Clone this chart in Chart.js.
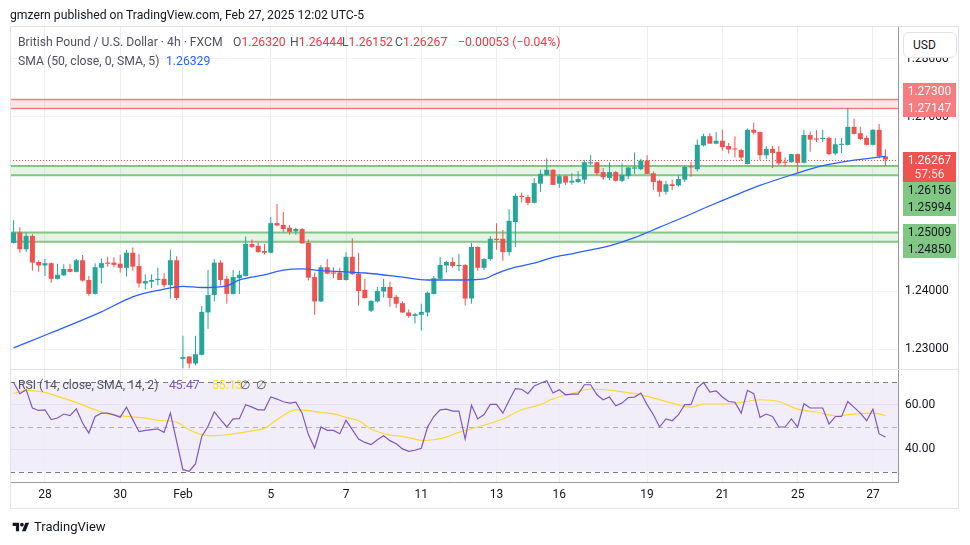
<!DOCTYPE html>
<html>
<head>
<meta charset="utf-8">
<script src="https://cdn.jsdelivr.net/npm/chart.js@4.4.1/dist/chart.umd.min.js"></script>
<style>
  body { margin: 0; background: #fff; font-family: Roboto, "Noto Sans", sans-serif; color: #131722; }
  #wrap { position: relative; width: 970px; height: 545px; overflow: hidden; }
  #chart { position: absolute; left: 0; top: 0; }
  .t { position: absolute; white-space: nowrap; font-size: 12.2px; line-height: 16px; }
  .gray { color: #50535e; }
  .red { color: #f23645; }
  #usd { position: absolute; left: 903px; top: 32px; width: 52px; height: 24px; border: 1px solid #e0e3eb;
         border-radius: 6px; background: #fff; font-size: 12px; line-height: 24px; box-sizing: content-box; }
  #usd span { padding-left: 9px; }
  #logo { position: absolute; left: 12px; top: 519px; font-size: 13px; line-height: 16px; display: flex; align-items: center; }
</style>
</head>
<body>
<div id="wrap">
  <canvas id="chart" width="970" height="545"></canvas>

  <div class="t" style="left:10px; top:7px;">gmzern published on TradingView.com, Feb 27, 2025 12:02 UTC-5</div>

  <div class="t gray" style="left:18px; top:34px;">British Pound / U.S. Dollar · 4h · FXCM</div>
  <div class="t" id="ohlc"></div>

  <div class="t gray" style="left:18px; top:53px;">SMA (50, close, 0, SMA, 5)</div>
  <div class="t" style="left:166px; top:53px; color:#2962ff;">1.26329</div>

  <div class="t gray" style="left:18px; top:377px;">RSI (14, close, SMA, 14, 2)</div>
  <div class="t" style="left:169px; top:377px; color:#7e57c2;">45.47</div>
  <div class="t" style="left:212px; top:377px; color:#fdd835;">55.13</div>
  <div class="t gray" style="left:240px; top:377px;">∅</div>
  <div class="t gray" style="left:256px; top:377px;">∅</div>

  <div id="usd"><span>USD</span></div>

  <div id="logo">
    <svg width="18" height="13" viewBox="0 0 36 28"><path d="M14 22H7V11H0V4h14v18z M28 22h-8l7.5-18h8L28 22z" fill="#131722"/><circle cx="20" cy="8" r="4" fill="#131722"/></svg>
    <span style="margin-left:4px;">TradingView</span>
  </div>
</div>

<script>
// ---- data (GBP/USD 4h, FXCM) ----
const opens = [
  1.2483, 1.2501, 1.2472, 1.2495, 1.2450, 1.2444, 1.2448, 1.2421, 1.2427, 1.2438,
  1.2433, 1.2453, 1.2419, 1.2395, 1.2440, 1.2449, 1.2449, 1.2447, 1.2440, 1.2466,
  1.2443, 1.2413, 1.2416, 1.2419, 1.2421, 1.2410, 1.2453, 1.2283, 1.2287, 1.2275,
  1.2290, 1.2363, 1.2393, 1.2449, 1.2421, 1.2395, 1.2422, 1.2426, 1.2481, 1.2478,
  1.2469, 1.2466, 1.2517, 1.2514, 1.2509, 1.2503, 1.2507, 1.2483, 1.2424, 1.2382,
  1.2441, 1.2432, 1.2432, 1.2419, 1.2459, 1.2430, 1.2402, 1.2366, 1.2382, 1.2399,
  1.2407, 1.2390, 1.2379, 1.2363, 1.2357, 1.2359, 1.2363, 1.2395, 1.2421, 1.2444,
  1.2450, 1.2443, 1.2445, 1.2387, 1.2476, 1.2440, 1.2455, 1.2490, 1.2490, 1.2467,
  1.2519, 1.2564, 1.2562, 1.2552, 1.2585, 1.2600, 1.2609, 1.2585, 1.2598, 1.2587,
  1.2588, 1.2592, 1.2620, 1.2622, 1.2605, 1.2595, 1.2605, 1.2590, 1.2598, 1.2611,
  1.2610, 1.2625, 1.2603, 1.2590, 1.2571, 1.2584, 1.2582, 1.2592, 1.2614, 1.2610,
  1.2651, 1.2667, 1.2654, 1.2659, 1.2650, 1.2645, 1.2643, 1.2619, 1.2678, 1.2674,
  1.2634, 1.2645, 1.2640, 1.2623, 1.2622, 1.2636, 1.2621, 1.2669, 1.2663, 1.2662,
  1.2664, 1.2637, 1.2652, 1.2652, 1.2683, 1.2672, 1.2664, 1.2652, 1.2678, 1.26320
];
const highs = [
  1.2522, 1.2510, 1.2501, 1.2498, 1.2453, 1.2455, 1.2449, 1.2447, 1.2446, 1.2447,
  1.2455, 1.2462, 1.2426, 1.2448, 1.2456, 1.2459, 1.2458, 1.2462, 1.2471, 1.2475,
  1.2464, 1.2429, 1.2429, 1.2440, 1.2431, 1.2471, 1.2460, 1.2323, 1.2288, 1.2323,
  1.2374, 1.2436, 1.2455, 1.2453, 1.2426, 1.2436, 1.2435, 1.2494, 1.2489, 1.2484,
  1.2481, 1.2528, 1.2550, 1.2536, 1.2514, 1.2509, 1.2508, 1.2489, 1.2432, 1.2445,
  1.2455, 1.2441, 1.2440, 1.2467, 1.2491, 1.2466, 1.2421, 1.2384, 1.2407, 1.2421,
  1.2416, 1.2393, 1.2382, 1.2368, 1.2362, 1.2378, 1.2399, 1.2426, 1.2459, 1.2452,
  1.2458, 1.2464, 1.2446, 1.2483, 1.2477, 1.2457, 1.2495, 1.2517, 1.2505, 1.2541,
  1.2568, 1.2570, 1.2566, 1.2595, 1.2609, 1.2629, 1.2610, 1.2601, 1.2599, 1.2603,
  1.2607, 1.2626, 1.2634, 1.2623, 1.2612, 1.2622, 1.2607, 1.2620, 1.2614, 1.2639,
  1.2628, 1.2634, 1.2606, 1.2592, 1.2590, 1.2592, 1.2600, 1.2616, 1.2623, 1.2661,
  1.2671, 1.2672, 1.2674, 1.2678, 1.2655, 1.2667, 1.2645, 1.2680, 1.2690, 1.2675,
  1.2650, 1.2650, 1.2650, 1.2630, 1.2636, 1.2637, 1.2678, 1.2675, 1.2677, 1.2678,
  1.2666, 1.2664, 1.2664, 1.2716, 1.2697, 1.2683, 1.2668, 1.2679, 1.2688, 1.26444
];
const lows = [
  1.2482, 1.2466, 1.2467, 1.2435, 1.2433, 1.2426, 1.2414, 1.2420, 1.2426, 1.2432,
  1.2432, 1.2416, 1.2392, 1.2394, 1.2413, 1.2442, 1.2441, 1.2432, 1.2425, 1.2435,
  1.2406, 1.2403, 1.2405, 1.2410, 1.2406, 1.2387, 1.2384, 1.2267, 1.2267, 1.2272,
  1.2289, 1.2335, 1.2382, 1.2410, 1.2378, 1.2394, 1.2395, 1.2425, 1.2474, 1.2466,
  1.2463, 1.2465, 1.2511, 1.2501, 1.2497, 1.2497, 1.2482, 1.2418, 1.2359, 1.2381,
  1.2429, 1.2422, 1.2419, 1.2418, 1.2428, 1.2375, 1.2387, 1.2364, 1.2380, 1.2389,
  1.2373, 1.2371, 1.2362, 1.2354, 1.2344, 1.2332, 1.2356, 1.2394, 1.2420, 1.2432,
  1.2440, 1.2434, 1.2375, 1.2378, 1.2435, 1.2436, 1.2452, 1.2471, 1.2452, 1.2461,
  1.2476, 1.2553, 1.2548, 1.2551, 1.2571, 1.2599, 1.2583, 1.2578, 1.2583, 1.2583,
  1.2586, 1.2585, 1.2617, 1.2599, 1.2592, 1.2591, 1.2589, 1.2588, 1.2593, 1.2602,
  1.2608, 1.2602, 1.2574, 1.2563, 1.2566, 1.2574, 1.2580, 1.2588, 1.2597, 1.2606,
  1.2649, 1.2654, 1.2653, 1.2642, 1.2637, 1.2630, 1.2624, 1.2618, 1.2670, 1.2626,
  1.2627, 1.2612, 1.2617, 1.2614, 1.2621, 1.2604, 1.2620, 1.2640, 1.2657, 1.2657,
  1.2634, 1.2634, 1.2638, 1.2651, 1.2670, 1.2660, 1.2651, 1.2651, 1.2629, 1.26152
];
const closes = [
  1.2501, 1.2472, 1.2495, 1.2449, 1.2444, 1.2448, 1.2421, 1.2428, 1.2438, 1.2433,
  1.2453, 1.2418, 1.2395, 1.2441, 1.2448, 1.2447, 1.2445, 1.2440, 1.2466, 1.2442,
  1.2413, 1.2417, 1.2419, 1.2421, 1.2410, 1.2453, 1.2388, 1.2286, 1.2275, 1.2291,
  1.2364, 1.2393, 1.2449, 1.2419, 1.2395, 1.2424, 1.2428, 1.2481, 1.2476, 1.2467,
  1.2466, 1.2517, 1.2513, 1.2507, 1.2502, 1.2507, 1.2482, 1.2423, 1.2382, 1.2441,
  1.2430, 1.2430, 1.2419, 1.2459, 1.2429, 1.2400, 1.2388, 1.2383, 1.2400, 1.2407,
  1.2388, 1.2378, 1.2363, 1.2357, 1.2360, 1.2364, 1.2397, 1.2422, 1.2445, 1.2450,
  1.2443, 1.2445, 1.2387, 1.2476, 1.2440, 1.2455, 1.2490, 1.2488, 1.2467, 1.2521,
  1.2564, 1.2562, 1.2552, 1.2586, 1.2602, 1.2609, 1.2583, 1.2598, 1.2587, 1.2590,
  1.2593, 1.2622, 1.2622, 1.2603, 1.2596, 1.2605, 1.2590, 1.2600, 1.2613, 1.2613,
  1.2625, 1.2602, 1.2588, 1.2571, 1.2584, 1.2581, 1.2593, 1.2614, 1.2613, 1.2652,
  1.2667, 1.2654, 1.2659, 1.2648, 1.2644, 1.2644, 1.2630, 1.2678, 1.2673, 1.2634,
  1.2645, 1.2638, 1.2620, 1.2621, 1.2636, 1.2621, 1.2669, 1.2661, 1.2661, 1.2664,
  1.2636, 1.2653, 1.2653, 1.2683, 1.2671, 1.2662, 1.2652, 1.2678, 1.2632, 1.26267
];

const smaIdx = [0, 6, 14, 19, 23, 27, 30, 34, 36, 40, 43, 46, 49, 53, 56, 62, 66, 71, 75, 77,
  80, 83, 86, 89, 92, 95, 99, 103, 107, 111, 115, 119, 124, 129, 133, 139];
const smaVals = [1.2302, 1.2328, 1.2364, 1.2390, 1.2401, 1.2408, 1.2406, 1.2409, 1.2419, 1.2428,
  1.2436, 1.2438, 1.2435, 1.2433, 1.2431, 1.2424, 1.2419, 1.2419, 1.2421, 1.2430,
  1.2441, 1.2448, 1.2458, 1.2464, 1.2471, 1.2478, 1.2492, 1.2510, 1.2528, 1.2547,
  1.2565, 1.2582, 1.2600, 1.2616, 1.2624, 1.2632];

// RSI(14), one value per bar
const rsi = [
  69.9, 64.9, 66.7, 58.5, 57.4, 57.7, 53.3, 54.0, 55.8, 55.1,
  58.1, 51.8, 47.3, 54.7, 56.2, 56.2, 55.4, 54.4, 58.9, 53.3,
  47.9, 48.5, 48.8, 49.1, 47.6, 56.2, 43.6, 30.9, 30.2, 33.5,
  45.8, 50.3, 56.8, 53.3, 50.0, 53.6, 53.7, 60.0, 58.9, 57.7,
  57.7, 63.4, 62.5, 61.3, 60.7, 61.1, 56.2, 46.6, 40.6, 50.0,
  48.5, 48.5, 47.0, 53.0, 48.8, 44.6, 43.1, 42.1, 44.3, 46.1,
  43.9, 42.5, 40.2, 39.1, 39.6, 40.5, 50.0, 54.7, 57.7, 58.0,
  57.1, 57.1, 44.6, 59.7, 53.6, 55.6, 60.1, 60.1, 56.2, 61.9,
  67.2, 66.9, 64.9, 68.4, 69.6, 70.7, 65.2, 66.7, 64.4, 64.7,
  64.7, 68.9, 68.9, 64.4, 62.2, 63.4, 59.5, 60.7, 63.2, 63.4,
  65.2, 60.0, 55.5, 50.0, 53.6, 52.8, 55.5, 60.0, 60.0, 67.4,
  69.9, 65.6, 66.2, 63.4, 61.4, 61.1, 56.2, 66.4, 64.9, 54.3,
  55.8, 54.7, 50.0, 50.0, 53.6, 50.0, 60.4, 58.5, 58.5, 58.5,
  51.3, 54.7, 54.7, 61.4, 58.8, 56.2, 52.8, 58.0, 46.9, 45.5
];

// RSI-based MA (yellow), sampled at these bars
const rsiMaIdx = [0, 2, 5, 7, 10, 13, 15, 18, 21, 23, 26, 28, 30, 32, 35, 38, 40, 42, 45, 47,
  49, 51, 53, 55, 57, 60, 62, 64, 65, 67, 69, 71, 74, 78, 81, 84, 86, 89, 92, 96,
  99, 101, 105, 108, 110, 114, 116, 119, 122, 125, 128, 131, 134, 137, 139];
const rsiMaVals = [65.0, 66.4, 65.5, 63.7, 61.0, 57.7, 55.9, 54.7, 54.0, 53.0,
  52.1, 48.8, 46.6, 46.1, 46.9, 48.3, 49.4, 53.3, 57.7, 57.4,
  56.5, 55.9, 54.3, 52.8, 49.1, 46.4, 45.8, 44.6, 44.0, 44.3,
  45.5, 47.6, 50.0, 53.6, 57.7, 60.0, 62.6, 64.9, 67.0, 66.2,
  64.9, 63.7, 60.7, 58.8, 60.3, 60.3, 61.0, 62.2, 61.4, 58.0,
  56.7, 55.0, 55.8, 56.2, 55.1];

// axis ticks
const xTickIdx = [5, 17, 27, 41, 53, 65, 77, 87, 101, 113, 125, 137];
const xTickText = ['28', '30', 'Feb', '5', '7', '11', '13', '16', '19', '21', '25', '27'];
const priceTicks = [1.23, 1.24, 1.25, 1.26, 1.27, 1.28];
const rsiTicks = [40, 60];
const rsiBand = [30, 50, 70];

// drawn zones and labels
const redZone = [1.27300, 1.27147];
const greenZones = [[1.26156, 1.25994], [1.25009, 1.24850]];
const lastPrice = 1.26267;
const lastChange = -0.00053;
const lastChangePct = -0.04;
const countdown = '57:56';

const up = '#26a69a', down = '#ef5350';

// header OHLC line
(function() {
  var i = closes.length - 1;
  var parts = [
    ['O', opens[i], 233], ['H', highs[i], 290], ['L', lows[i], 342], ['C', closes[i], 395]
  ];
  var html = '';
  parts.forEach(function(p) {
    html += '<span class="t" style="left:' + p[2] + 'px; top:34px;"><span class="gray">' + p[0] +
      '</span><span class="red">' + p[1].toFixed(5) + '</span></span>';
  });
  html += '<span class="t red" style="left:458px; top:34px;">\u2212' + Math.abs(lastChange).toFixed(5) +
    ' (\u2212' + Math.abs(lastChangePct).toFixed(2) + '%)</span>';
  document.getElementById('ohlc').outerHTML = html;
})();

Chart.defaults.font.family = 'Roboto, "Noto Sans", sans-serif';
Chart.defaults.font.size = 12;
Chart.defaults.color = '#131722';

const idx = opens.map(function(_, i) { return i; });
function candleColor(i) { return closes[i] >= opens[i] ? up : down; }

// panes, zones, band lines and price tags
const overlays = {
  id: 'overlays',
  beforeDraw(chart) {
    const {ctx, chartArea: a, scales: {osc}} = chart;
    const top = osc.getPixelForValue(rsiBand[2]);
    const bot = osc.getPixelForValue(rsiBand[0]);
    ctx.save();
    ctx.fillStyle = 'rgba(126, 87, 194, 0.1)';
    ctx.fillRect(a.left, top, a.right - a.left, bot - top);
    ctx.restore();
  },
  beforeDatasetsDraw(chart) {
    const {ctx, chartArea: a, scales: {y, osc}} = chart;
    ctx.save();

    function zone(hi, lo, fill, line, lw) {
      const y1 = y.getPixelForValue(hi), y2 = y.getPixelForValue(lo);
      ctx.fillStyle = fill;
      ctx.fillRect(a.left, y1, a.right - a.left, y2 - y1);
      ctx.strokeStyle = line;
      ctx.lineWidth = lw;
      ctx.beginPath();
      ctx.moveTo(a.left, y1); ctx.lineTo(a.right, y1);
      ctx.moveTo(a.left, y2); ctx.lineTo(a.right, y2);
      ctx.stroke();
    }
    zone(redZone[0], redZone[1], 'rgba(247, 124, 128, 0.2)', '#f77c80', 1.5);
    greenZones.forEach(function(z) { zone(z[0], z[1], 'rgba(129, 199, 132, 0.2)', '#81c784', 2); });

    // last price dotted line
    const ly = Math.round(y.getPixelForValue(lastPrice)) + 0.5;
    ctx.strokeStyle = down;
    ctx.lineWidth = 1;
    ctx.setLineDash([1, 2]);
    ctx.beginPath(); ctx.moveTo(a.left, ly); ctx.lineTo(a.right, ly); ctx.stroke();

    // rsi bands
    rsiBand.forEach(function(v) {
      const by = Math.round(osc.getPixelForValue(v)) + 0.5;
      ctx.strokeStyle = v === 50 ? 'rgba(120, 123, 134, 0.5)' : '#787b86';
      ctx.setLineDash([5, 4]);
      ctx.beginPath(); ctx.moveTo(a.left, by); ctx.lineTo(a.right, by); ctx.stroke();
    });
    ctx.restore();
  },
  afterDraw(chart) {
    const {ctx, chartArea: a, scales: {y}} = chart;
    ctx.save();

    // pane separator + frame
    ctx.strokeStyle = '#e0e3eb';
    ctx.lineWidth = 1;
    ctx.beginPath();
    ctx.moveTo(a.left, Math.round(y.bottom) + 0.5); ctx.lineTo(959, Math.round(y.bottom) + 0.5);
    ctx.stroke();
    ctx.strokeRect(10.5, 26.5, 948, 482);

    // price tags on the right axis
    const tagX = 903, tagW = 53, tagH = 17;
    ctx.font = '12px Roboto, "Noto Sans", sans-serif';
    ctx.textAlign = 'center';
    ctx.textBaseline = 'middle';
    function tag(cy, text, bg, fg) {
      ctx.fillStyle = bg;
      ctx.fillRect(tagX, cy - tagH / 2, tagW, tagH);
      ctx.fillStyle = fg;
      ctx.fillText(text, tagX + tagW / 2, cy + 0.5);
    }
    const ly = y.getPixelForValue(lastPrice);
    const lastTop = ly - 7.5, lastBot = ly + 22.5;
    ctx.fillStyle = down;
    ctx.fillRect(tagX, lastTop, tagW, lastBot - lastTop);
    ctx.fillStyle = '#fff';
    ctx.fillText(lastPrice.toFixed(5), tagX + tagW / 2, ly + 1.5);
    ctx.fillStyle = 'rgba(255,255,255,0.85)';
    ctx.fillText(countdown, tagX + tagW / 2, ly + 15);

    const tags = [
      {v: redZone[0], bg: '#f77c80', fg: '#fff'},
      {v: redZone[1], bg: '#f77c80', fg: '#fff'}
    ];
    greenZones.forEach(function(z) {
      tags.push({v: z[0], bg: '#81c784', fg: '#131722'});
      tags.push({v: z[1], bg: '#81c784', fg: '#131722'});
    });
    // above the last price: pushed upward, below: pushed downward
    let cur = lastTop;
    tags.filter(t => t.v > lastPrice).sort((p, q) => p.v - q.v).forEach(function(t) {
      const c = Math.min(y.getPixelForValue(t.v), cur - tagH / 2);
      tag(c, t.v.toFixed(5), t.bg, t.fg);
      cur = c - tagH / 2;
    });
    cur = lastBot;
    tags.filter(t => t.v < lastPrice).sort((p, q) => q.v - p.v).forEach(function(t) {
      const c = Math.max(y.getPixelForValue(t.v), cur + tagH / 2);
      tag(c, t.v.toFixed(5), t.bg, t.fg);
      cur = c + tagH / 2;
    });
    ctx.restore();
  }
};

var ctx = document.getElementById('chart').getContext('2d');
var myChart = new Chart(ctx, {
  type: 'bar',
  data: {
    datasets: [{
      type: 'bar',
      label: 'wick',
      data: idx.map(i => ({x: i, y: [lows[i], highs[i]]})),
      backgroundColor: idx.map(candleColor),
      barThickness: 1,
      inflateAmount: 0,
      grouped: false,
      yAxisID: 'y',
      order: 4
    },
    {
      type: 'bar',
      label: 'body',
      data: idx.map(i => ({x: i, y: [opens[i], closes[i]]})),
      backgroundColor: idx.map(candleColor),
      barThickness: 5,
      minBarLength: 1,
      inflateAmount: 0,
      grouped: false,
      yAxisID: 'y',
      order: 3
    },
    {
      type: 'line',
      label: 'SMA 50',
      data: smaIdx.map((x, k) => ({x: x, y: smaVals[k]})),
      borderColor: '#2962ff',
      borderWidth: 1.3,
      pointRadius: 0,
      cubicInterpolationMode: 'monotone',
      yAxisID: 'y',
      order: 2
    },
    {
      type: 'line',
      label: 'RSI MA',
      data: rsiMaIdx.map((x, k) => ({x: x, y: rsiMaVals[k]})),
      borderColor: '#fdd835',
      borderWidth: 1.2,
      pointRadius: 0,
      cubicInterpolationMode: 'monotone',
      yAxisID: 'osc',
      order: 1
    },
    {
      type: 'line',
      label: 'RSI',
      data: idx.map(i => ({x: i, y: rsi[i]})),
      borderColor: '#7e57c2',
      borderWidth: 1.2,
      pointRadius: 0,
      tension: 0,
      yAxisID: 'osc',
      order: 0
    }]
  },
  options: {
    responsive: false,
    devicePixelRatio: 1,
    animation: false,
    events: [],
    layout: {
      padding: {left: 10, top: 27, right: 11, bottom: 36}
    },
    plugins: {
      legend: {display: false},
      tooltip: {enabled: false}
    },
    scales: {
      x: {
        type: 'linear',
        min: -0.57,
        max: 141,
        offset: false,
        grid: {color: '#eeedf4', offset: false, drawTicks: false},
        border: {color: '#9598a1'},
        afterBuildTicks: s => { s.ticks = xTickIdx.map(v => ({value: v})); },
        afterFit: s => { s.height = 27; },
        ticks: {
          padding: 6,
          maxRotation: 0,
          autoSkip: false,
          callback: (v, i) => xTickText[i]
        }
      },
      y: {
        type: 'linear',
        axis: 'y',
        position: 'right',
        stack: 'panes',
        stackWeight: 342,
        min: 1.226552,
        max: 1.285517,
        grid: {color: '#f0f3fa', drawTicks: false},
        border: {color: '#9598a1'},
        afterBuildTicks: s => { s.ticks = priceTicks.map(v => ({value: v})); },
        afterFit: s => { s.width = 61; },
        ticks: {
          padding: 7,
          callback: v => v.toFixed(5)
        }
      },
      osc: {
        type: 'linear',
        axis: 'y',
        position: 'right',
        stack: 'panes',
        stackWeight: 113,
        min: 25.39,
        max: 75.95,
        grid: {color: 'rgba(126, 87, 194, 0.1)', drawTicks: false},
        border: {color: '#9598a1'},
        afterBuildTicks: s => { s.ticks = rsiTicks.map(v => ({value: v})); },
        afterFit: s => { s.width = 61; },
        ticks: {
          padding: 7,
          callback: v => v.toFixed(2)
        }
      }
    }
  },
  plugins: [overlays]
});
</script>
</body>
</html>
